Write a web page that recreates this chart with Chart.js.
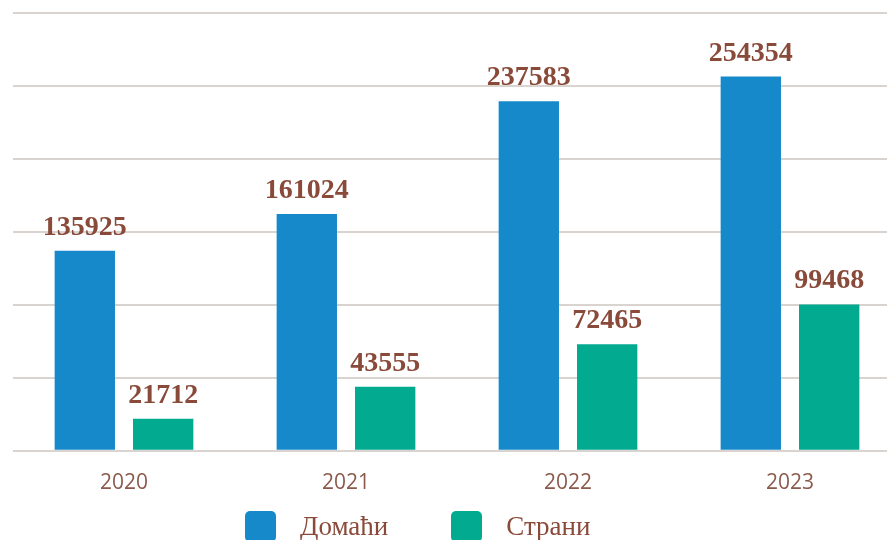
<!DOCTYPE html>
<html>
<head>
<meta charset="utf-8">
<script src="https://cdn.jsdelivr.net/npm/chart.js@4.4.4/dist/chart.umd.min.js"></script>
<style>
  html, body { margin: 0; padding: 0; background: #fff; overflow: hidden; }
  .wrap { position: relative; width: 887px; height: 540px; overflow: hidden; }
  #chart { position: absolute; left: 0; top: 0; }
  .legend { position: absolute; left: 245px; top: 511px; display: flex; font-family: "Liberation Serif", serif; font-size: 27px; color: #8a4a3a; }
  .legend-item { display: flex; align-items: flex-start; margin-right: 63px; }
  .legend-box { width: 31px; height: 31px; border-radius: 5px; margin-right: 24px; }
  .legend-text { line-height: 31px; }
</style>
</head>
<body>
<div class="wrap">
  <canvas id="chart" width="904" height="516"></canvas>
  <div class="legend" id="legend"></div>
</div>
<script>
const years = ['2020', '2021', '2022', '2023'];
const domestic = [135925, 161024, 237583, 254354];
const foreign = [21712, 43555, 72465, 99468];
const seriesNames = ['Домаћи', 'Страни'];
const seriesColors = ['#1689ca', '#02aa90'];
const Y_MAX = 297600;
const Y_STEP = 49600;

const LABEL_COLOR = '#8a4a3a';
const TICK_COLOR = '#8c5a4c';
const GRID_COLOR = '#dad4d0';

const valueLabels = {
  id: 'valueLabels',
  afterDatasetsDraw(chart) {
    const ctx = chart.ctx;
    ctx.save();
    ctx.font = 'bold 28px "Liberation Serif"';
    ctx.fillStyle = LABEL_COLOR;
    ctx.textAlign = 'center';
    ctx.textBaseline = 'alphabetic';
    chart.data.datasets.forEach((ds, i) => {
      chart.getDatasetMeta(i).data.forEach((bar, j) => {
        ctx.fillText(String(ds.data[j]), bar.x, bar.y - 16);
      });
    });
    ctx.restore();
  }
};

new Chart(document.getElementById('chart'), {
  type: 'bar',
  data: {
    labels: years,
    datasets: [
      { label: seriesNames[0], data: domestic, backgroundColor: seriesColors[0] },
      { label: seriesNames[1], data: foreign, backgroundColor: seriesColors[1] },
    ],
  },
  options: {
    responsive: false,
    animation: false,
    devicePixelRatio: 1,
    categoryPercentage: 0.706,
    barPercentage: 0.77,
    layout: { padding: { left: 13, right: 3, top: 13, bottom: 0 } },
    plugins: {
      legend: { display: false },
      tooltip: { enabled: false },
    },
    scales: {
      x: {
        grid: { display: false, drawTicks: false },
        border: { display: false },
        ticks: { color: TICK_COLOR, font: { family: '"Open Sans"', size: 21 }, padding: 20 },
      },
      y: {
        min: 0,
        max: Y_MAX,
        grid: { color: GRID_COLOR, lineWidth: 2, drawTicks: false },
        border: { display: false },
        ticks: { display: false, stepSize: Y_STEP },
      },
    },
  },
  plugins: [valueLabels],
});

const legend = document.getElementById('legend');
seriesNames.forEach((name, i) => {
  const item = document.createElement('div');
  item.className = 'legend-item';
  item.innerHTML = `<div class="legend-box" style="background:${seriesColors[i]}"></div><div class="legend-text">${name}</div>`;
  legend.appendChild(item);
});
</script>
</body>
</html>
